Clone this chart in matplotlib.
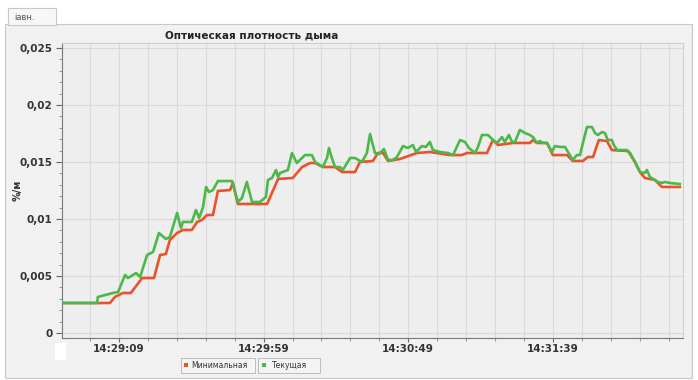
import matplotlib
matplotlib.use("Agg")
import matplotlib.pyplot as plt
from matplotlib.patches import Rectangle
from matplotlib.ticker import MultipleLocator

# ---- data (seconds relative to 14:29:09, value in %/m) ----
green_t = [-19.4, -7.6, -7.3, -2.1, -0.3, 2.1, 3.1, 5.9, 7.3, 9.7, 11.8, 13.8, 16.2, 17.6,
           20.1, 21.4, 22.1, 25.2, 26.6, 27.7, 29.0, 30.1, 31.1, 32.5, 34.2, 39.1, 41.1,
           42.5, 44.2, 46.0, 48.7, 50.8, 51.5, 52.9, 54.3, 55.0, 55.7, 58.4, 59.8, 61.5,
           64.3, 66.7, 67.8, 70.5, 71.9, 72.6, 73.6, 74.7, 76.4, 77.4, 79.9, 81.6, 84.0,
           85.7, 86.8, 88.5, 89.9, 91.6, 93.0, 94.7, 96.1, 98.2, 99.9, 101.6, 102.7,
           104.7, 106.1, 107.5, 108.5, 111.0, 113.7, 115.5, 117.9, 119.6, 121.0, 123.1,
           124.1, 125.5, 127.6, 129.3, 130.7, 132.4, 133.4, 134.8, 135.9, 136.9, 138.6,
           140.4, 142.1, 143.1, 144.5, 145.5, 146.6, 148.0, 149.7, 150.7, 152.5, 154.2,
           156.9, 158.3, 159.4, 160.4, 161.8, 163.5, 164.6, 165.6, 167.0, 168.0, 169.0,
           170.4, 171.1, 172.2, 175.6, 176.7, 178.4, 180.1, 181.8, 182.5, 183.6, 185.3,
           186.3, 187.7, 188.8, 190.5, 193.9]
green_v = [0.00263, 0.00263, 0.00316, 0.00351, 0.00360, 0.00509, 0.00482, 0.00526, 0.00491,
           0.00684, 0.00711, 0.00877, 0.00825, 0.00842, 0.01053, 0.00921, 0.00974, 0.00974,
           0.01079, 0.01009, 0.01097, 0.01281, 0.01237, 0.01254, 0.01333, 0.01333, 0.01149,
           0.01184, 0.01325, 0.01149, 0.01149, 0.01193, 0.01342, 0.01360, 0.01430, 0.01368,
           0.01404, 0.01430, 0.01579, 0.01491, 0.01561, 0.01561, 0.01500, 0.01456, 0.01535,
           0.01623, 0.01535, 0.01456, 0.01456, 0.01430, 0.01535, 0.01535, 0.01500, 0.01579,
           0.01746, 0.01579, 0.01570, 0.01614, 0.01518, 0.01518, 0.01544, 0.01640, 0.01623,
           0.01649, 0.01588, 0.01640, 0.01632, 0.01676, 0.01605, 0.01588, 0.01579, 0.01561,
           0.01693, 0.01676, 0.01623, 0.01579, 0.01632, 0.01737, 0.01737, 0.01693, 0.01667,
           0.01719, 0.01676, 0.01737, 0.01676, 0.01676, 0.01781, 0.01754, 0.01737, 0.01719,
           0.01667, 0.01684, 0.01667, 0.01667, 0.01588, 0.01640, 0.01632, 0.01632, 0.01518,
           0.01561, 0.01561, 0.01667, 0.01807, 0.01807, 0.01754, 0.01737, 0.01763, 0.01754,
           0.01693, 0.01693, 0.01649, 0.01605, 0.01605, 0.01579, 0.01500, 0.01412, 0.01404,
           0.01430, 0.01368, 0.01342, 0.01325, 0.01316, 0.01325, 0.01316, 0.01307]

red_t = [-19.4, -3.1, -1.4, 1.4, 4.1, 8.0, 12.1, 14.2, 16.2, 17.6, 20.1, 22.1, 25.2, 27.0,
         28.7, 30.4, 32.5, 34.2, 38.4, 39.4, 41.1, 51.2, 55.0, 60.1, 63.3, 66.0, 67.8,
         70.5, 74.7, 77.1, 81.6, 83.3, 87.8, 89.5, 91.3, 93.0, 97.1, 103.0, 107.5, 114.4,
         118.6, 120.3, 127.2, 129.3, 131.0, 136.2, 142.1, 143.1, 144.5, 148.0, 150.0,
         154.9, 156.9, 160.4, 162.1, 163.9, 165.9, 168.7, 170.4, 176.0, 178.4, 180.1,
         181.8, 185.3, 187.7, 193.9]
red_v = [0.00263, 0.00263, 0.00316, 0.00351, 0.00351, 0.00482, 0.00482, 0.00684, 0.00693,
         0.00816, 0.00877, 0.00904, 0.00904, 0.00974, 0.00991, 0.01035, 0.01035, 0.01246,
         0.01254, 0.01316, 0.01132, 0.01132, 0.01351, 0.01360, 0.01456, 0.01491, 0.01491,
         0.01456, 0.01456, 0.01412, 0.01412, 0.01500, 0.01509, 0.01579, 0.01579, 0.01509,
         0.01526, 0.01579, 0.01588, 0.01561, 0.01561, 0.01579, 0.01579, 0.01693, 0.01649,
         0.01667, 0.01667, 0.01693, 0.01667, 0.01667, 0.01561, 0.01561, 0.01509, 0.01509,
         0.01544, 0.01544, 0.01693, 0.01684, 0.01605, 0.01596, 0.01500, 0.01412, 0.01360,
         0.01342, 0.01281, 0.01281]

xtick_pos = [0, 50, 100, 150]
xtick_labels = ["14:29:09", "14:29:59", "14:30:49", "14:31:39"]
ytick_pos = [0, 0.005, 0.01, 0.015, 0.02, 0.025]
ytick_labels = ["0", "0,005", "0,01", "0,015", "0,02", "0,025"]
title = "Оптическая плотность дыма"
ylabel = "%/м"
legend_labels = ["Минимальная", "Текущая"]
tab_label = "iавн."

RED = "#e8532b"
GREEN = "#4db84a"

W, H = 698, 380
fig = plt.figure(figsize=(W / 100, H / 100), dpi=100)
fig.patch.set_facecolor("white")


def fx(px):
    return px / W


def fy(py):
    return 1 - py / H


def rect(x0, y0, x1, y1, fc, ec, lw=0.8, z=0):
    r = Rectangle((fx(x0), fy(y1)), fx(x1) - fx(x0), fy(y0) - fy(y1),
                  transform=fig.transFigure, facecolor=fc, edgecolor=ec,
                  linewidth=lw, zorder=z)
    fig.add_artist(r)


# outer panel and tab
rect(5, 24, 692, 378, "#f1f1f1", "#c8c8c8", 0.8, z=-5)
rect(8, 8, 56, 25, "#f7f7f7", "#c8c8c8", 0.8, z=-4)
fig.text(fx(14), fy(17), tab_label, fontsize=6, color="#555555", va="center", ha="left")
rect(55, 343, 66, 360, "white", "none", 0, z=-3)

ax = fig.add_axes([fx(62), fy(338), fx(683) - fx(62), fy(43) - fy(338)])
ax.set_facecolor("#eeeeee")
ax.set_xlim(-19.7, 195.0)
ax.set_ylim(-0.00044, 0.02544)

ax.plot(red_t, red_v, color=RED, lw=1.9, solid_joinstyle="round", zorder=3)
ax.plot(green_t, green_v, color=GREEN, lw=1.9, solid_joinstyle="round", zorder=4)

ax.set_xticks(xtick_pos)
ax.set_xticklabels(xtick_labels)
ax.xaxis.set_minor_locator(MultipleLocator(10))
ax.set_yticks(ytick_pos)
ax.set_yticklabels(ytick_labels)
ax.yaxis.set_minor_locator(MultipleLocator(0.001))

ax.grid(True, which="both", axis="x", color="#d9d9d9", lw=0.8)
ax.grid(True, which="major", axis="y", color="#d9d9d9", lw=0.8)
ax.set_axisbelow(True)

for lbl in ax.get_xticklabels() + ax.get_yticklabels():
    lbl.set_fontweight("bold")
    lbl.set_color("#333333")
ax.tick_params(axis="both", which="major", labelsize=7.5, length=4, width=0.8,
               color="#666666", pad=3)
ax.tick_params(axis="both", which="minor", length=2, width=0.6, color="#888888")
ax.tick_params(axis="x", which="major", length=3, pad=1.5)

for s in ["top", "right"]:
    ax.spines[s].set_color("#cfcfcf")
    ax.spines[s].set_linewidth(0.8)
for s in ["left", "bottom"]:
    ax.spines[s].set_color("#777777")
    ax.spines[s].set_linewidth(0.8)

fig.text(fx(165), fy(35), title, fontsize=7.5, fontweight="bold", color="#222222",
         ha="left", va="center")
fig.text(fx(18), fy(190), ylabel, fontsize=7, fontweight="bold", color="#333333",
         rotation=90, ha="center", va="center")

# legend boxes
rect(181, 358, 255, 373, "#f4f4f4", "#bdbdbd", 0.7, z=5)
rect(258, 358, 320, 373, "#f4f4f4", "#bdbdbd", 0.7, z=5)
rect(184, 363, 188, 367, RED, "none", 0, z=6)
rect(262, 363, 266, 367, GREEN, "none", 0, z=6)
fig.text(fx(191), fy(365.5), legend_labels[0], fontsize=5.5, color="#333333",
         ha="left", va="center", zorder=7)
fig.text(fx(272), fy(365.5), legend_labels[1], fontsize=5.5, color="#333333",
         ha="left", va="center", zorder=7)

fig.savefig("out.png", dpi=100)
